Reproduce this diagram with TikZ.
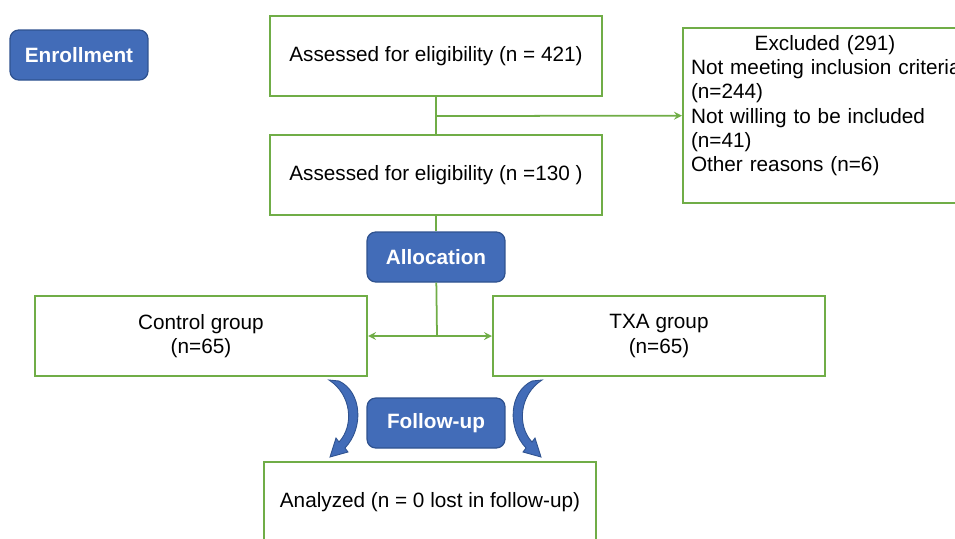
\documentclass[tikz,border=0pt]{standalone}
\usepackage{fontspec}
\setmainfont{Liberation Sans}
\usetikzlibrary{arrows}
\definecolor{boxgreen}{RGB}{112,173,71}
\definecolor{headblue}{RGB}{66,108,184}
\definecolor{headedge}{RGB}{47,82,143}
\tikzstyle{phase} = [rectangle, rounded corners=5pt, minimum width=2.76cm, minimum height=1cm, text centered, draw=headedge, fill=headblue, text=white, font=\fontsize{11.8}{13.7}\selectfont\bfseries, line width=0.7pt]
\tikzstyle{process} = [rectangle, minimum width=6.64cm, minimum height=1.6cm, text centered, align=center, draw=boxgreen, line width=1.2pt]
\tikzstyle{excl} = [rectangle, minimum width=5.68cm, minimum height=3.5cm, text width=5.36cm, align=left, inner xsep=0.16cm, draw=boxgreen, line width=1.2pt]
\tikzstyle{line} = [boxgreen, line width=1pt]
\tikzstyle{arrow} = [line, ->, >=stealth]
\tikzstyle{turn} = [fill=headblue, draw=headedge, line width=0.5pt]

\begin{document}
\begin{tikzpicture}[x=0.02cm, y=-0.02cm, font=\fontsize{11.8}{13.7}\selectfont]
\useasboundingbox (0,0) rectangle (955,538);
\clip (0,0) rectangle (955,538);

\node (enroll) [phase] at (79,55) {Enrollment};
\node (assess1) [process] at (436,56) {Assessed for eligibility (n = 421)};
\node (assess2) [process] at (436,175) {Assessed for eligibility (n =130 )};
\node (excluded) [excl] at (825,115.5) {\makebox[\linewidth]{Excluded (291)}\\\mbox{Not meeting inclusion criteria}\\(n=244)\\Not willing to be included\\(n=41)\\Other reasons (n=6)\\\mbox{}};

\node (alloc) [phase] at (436,257) {Allocation};
\node (control) [process] at (201,336) {Control group\\(n=65)};
\node (txa) [process] at (659,336) {TXA group\\(n=65)};

\node (follow) [phase] at (436,423) {Follow-up};
\node (analyzed) [process] at (430,502) {Analyzed (n = 0 lost in follow-up)};

\coordinate (split) at (436,116);
\coordinate (asplit) at (437,336);

\draw [line] (assess1) -- (assess2);
\draw [arrow] (split) -- (excluded);
\draw [line] (assess2) -- (alloc);
\draw [line] (alloc) -- (asplit);
\draw [arrow] (asplit) -- (control);
\draw [arrow] (asplit) -- (txa);

%curved arrows round follow-up
\filldraw [turn] (329,380) -- (339,381) .. controls (362,392) and (364,428) .. (345,448) -- (348,452) -- (330,457) -- (336,438) -- (339,442) .. controls (354,426) and (352,395) .. (329,380) -- cycle;
\filldraw [turn] (542,380) -- (532,381) .. controls (509,392) and (507,428) .. (526,448) -- (523,452) -- (541,457) -- (535,438) -- (532,442) .. controls (517,426) and (519,395) .. (542,380) -- cycle;

\end{tikzpicture}
\end{document}
